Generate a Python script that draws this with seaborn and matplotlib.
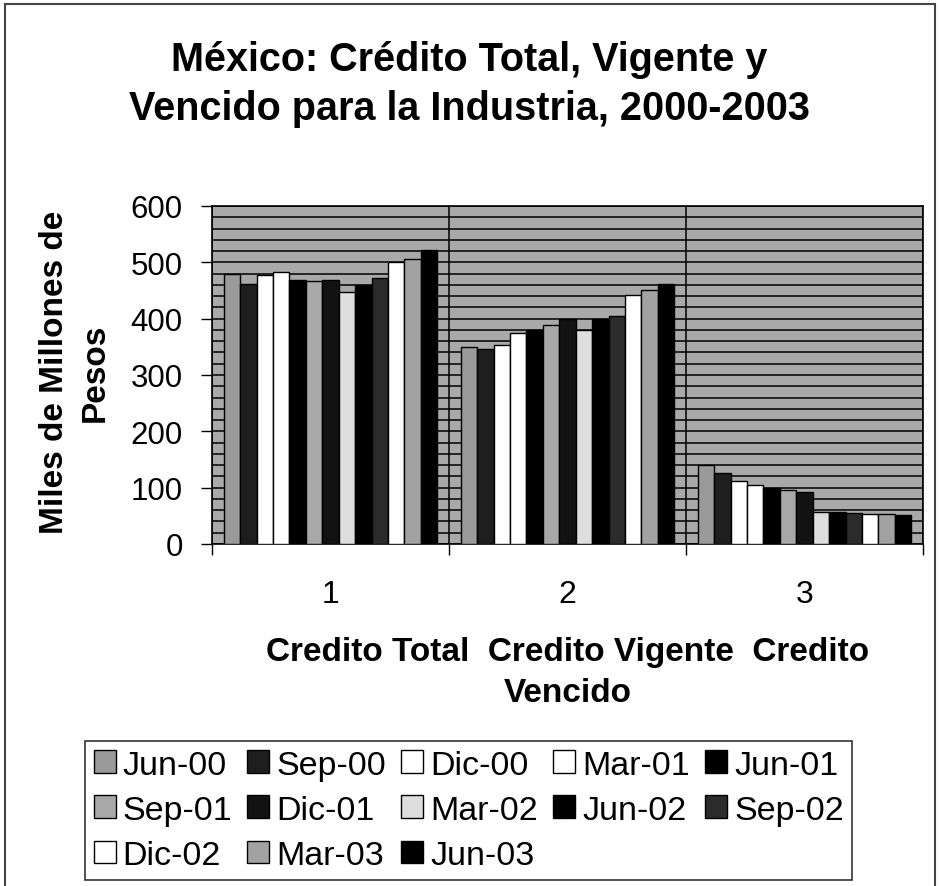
import numpy as np
import pandas as pd
import seaborn as sns
import matplotlib.pyplot as plt
import matplotlib.ticker as ticker
from matplotlib.patches import Rectangle

""" data """
grupos = ['1', '2', '3']
fechas = ['Jun-00', 'Sep-00', 'Dic-00', 'Mar-01', 'Jun-01', 'Sep-01', 'Dic-01',
          'Mar-02', 'Jun-02', 'Sep-02', 'Dic-02', 'Mar-03', 'Jun-03']
credito_total = [479, 461, 477, 483, 469, 467, 469, 447, 459, 473, 500, 506, 522]
credito_vigente = [350, 347, 353, 375, 379, 388, 399, 379, 399, 404, 442, 451, 461]
credito_vencido = [140, 126, 112, 104, 99, 96, 93, 57, 56, 55, 53, 53, 52]
colores = ['#9a9a9a', '#1e1e1e', '#ffffff', '#ffffff', '#000000', '#a8a8a8', '#121212',
           '#dedede', '#000000', '#2b2b2b', '#ffffff', '#a2a2a2', '#000000']

rows = []
for g, vals in zip(grupos, [credito_total, credito_vigente, credito_vencido]):
    for f, v in zip(fechas, vals):
        rows.append({'grupo': g, 'fecha': f, 'valor': v})
df = pd.DataFrame(rows)

""" config """
sns.set_theme(style='white')
plt.rcParams['font.family'] = ['Liberation Sans', 'DejaVu Sans']
plt.rcParams['text.color'] = 'black'
plt.rcParams['axes.labelcolor'] = 'black'
plt.rcParams['xtick.color'] = 'black'
plt.rcParams['ytick.color'] = 'black'

fig = plt.figure(figsize=(9.39, 8.87), dpi=100)
ax = fig.add_axes([212/939, 1-545/887, 711/939, 338/887])
ax.set_facecolor('#a9a9a9')

sns.barplot(data=df, x='grupo', y='valor', hue='fecha', order=grupos, hue_order=fechas,
            palette=colores, width=0.9, edgecolor='black', linewidth=1, saturation=1,
            ax=ax, zorder=3)

ax.set_xlim(-0.5, 2.5)
ax.set_ylim(0, 600)

# y axis: ticks every 100, grid every 20
ax.yaxis.set_major_locator(ticker.MultipleLocator(100))
ax.yaxis.set_minor_locator(ticker.MultipleLocator(20))
ax.grid(which='both', axis='y', color='black', linewidth=1.1, zorder=1)
ax.set_axisbelow(True)
ax.tick_params(axis='y', which='major', direction='out', length=8, width=1,
               color='black', labelsize=22.5, pad=13, left=True)
ax.tick_params(axis='y', which='minor', length=0)

# x axis: labels at groups, tick marks at the boundaries
ax.xaxis.set_minor_locator(ticker.FixedLocator([-0.5, 0.5, 1.5, 2.5]))
ax.grid(which='minor', axis='x', color='black', linewidth=1.1)
ax.tick_params(axis='x', which='major', length=0, labelsize=23, pad=25)
ax.tick_params(axis='x', which='minor', direction='out', length=8, width=1,
               color='black', bottom=True)

for s in ax.spines.values():
    s.set_color('black')
    s.set_linewidth(1.2)

ax.set_ylabel('Miles de Millones de\nPesos', fontsize=24, fontweight='bold', linespacing=1.4)
ax.yaxis.set_label_coords(-0.143, 0.51)
ax.set_xlabel('Credito Total  Credito Vigente  Credito\nVencido', fontsize=24,
              fontweight='bold', linespacing=1.4)
ax.xaxis.set_label_coords(0.5, -0.272)

fig.suptitle('México: Crédito Total, Vigente y\nVencido para la Industria, 2000-2003',
             fontsize=28.5, fontweight='bold', x=0.5, y=1-41/887, va='top', linespacing=1.36)

# legend, row-wise order
handles, labels = ax.get_legend_handles_labels()
ax.get_legend().remove()
orden = [0, 5, 10, 1, 6, 11, 2, 7, 12, 3, 8, 4, 9]
leg = fig.legend([handles[i] for i in orden], [labels[i] for i in orden], ncol=5,
                 loc='upper left', bbox_to_anchor=(85/939, 1-742/887), fontsize=24.5,
                 frameon=True, fancybox=False, edgecolor='black', borderaxespad=0,
                 handlelength=0.65, handleheight=0.65, handletextpad=0.2,
                 columnspacing=0.45, labelspacing=0.42, borderpad=0.25)
leg.get_frame().set_linewidth(1.2)

# outer border of the chart
fig.patches.append(Rectangle((5/939, -0.02), 930/939, 1-5/887+0.02, transform=fig.transFigure,
                             fill=False, edgecolor='#444444', linewidth=1.5))

fig.savefig('out.png', dpi=100, facecolor='white')
